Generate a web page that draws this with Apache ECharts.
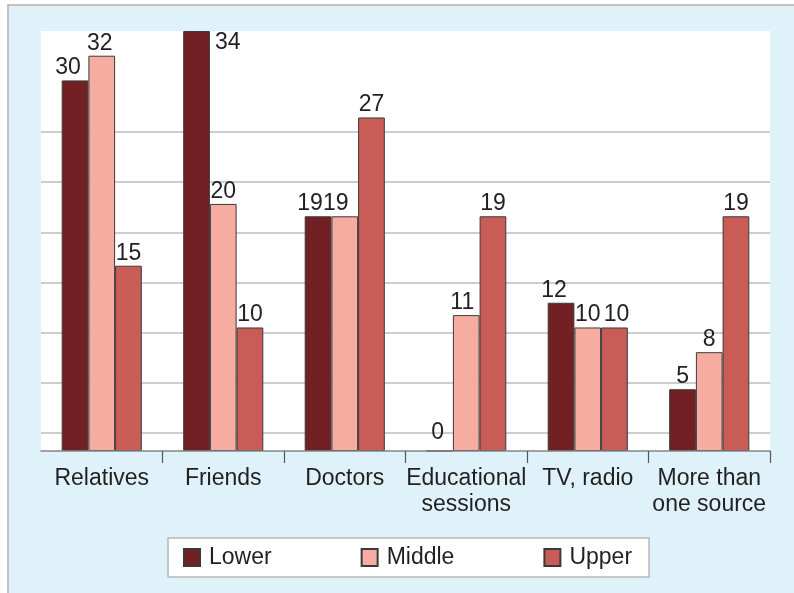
<!DOCTYPE html>
<html>
<head>
<meta charset="utf-8">
<script src="https://cdn.jsdelivr.net/npm/echarts@6/dist/echarts.min.js"></script>
<style>
  html, body { margin: 0; padding: 0; background: #fff; }
  #frame {
    position: absolute; left: 7px; top: 4px; right: 0; bottom: 0;
    background: #dff1f9;
    border-top: 2px solid #c2c2c2;
    border-left: 2px solid #c2c2c2;
  }
  #chart { position: absolute; left: 0; top: 0; width: 794px; height: 593px; }
</style>
</head>
<body>
<div id="frame"></div>
<div id="chart"></div>
<script>
const categories = ['Relatives', 'Friends', 'Doctors', 'Educational\nsessions', 'TV, radio', 'More than\none source']
const seriesNames = ['Lower', 'Middle', 'Upper']
const lower = [30, 34, 19, 0, 12, 5]
const middle = [32, 20, 19, 11, 10, 8]
const upper = [15, 10, 27, 19, 10, 19]

// label nudges so neighbouring numbers don't collide (as in the original)
const lowerShift = [[-7, 0], null, [-8, 0], [-2, -5], [-7, 0], null]
const middleShift = [[-2, 0], null, [-9, 0], [-4, 0], null, null]
const upperShift = [null, null, null, null, [2, 0], null]

const COLORS = ['#722023', '#f7aca2', '#c95c56']
const FONT = '"Liberation Sans", Arial, sans-serif'
const TEXT = '#231f20'

const toData = (values, shifts) => values.map((v, i) => {
  const item = { value: v }
  if (shifts[i]) item.label = { offset: shifts[i] }
  return item
})

const lowerData = toData(lower, lowerShift)
// Friends bar reaches the top, so its number sits beside it
lowerData[1].label = { position: ['100%', 0], offset: [5, 0], align: 'left', verticalAlign: 'top' }

const makeSeries = (name, data, color) => ({
  name,
  type: 'bar',
  data,
  barWidth: 26.7,
  barGap: 0,
  itemStyle: { color, borderColor: '#3a3a3a', borderWidth: 1 },
  label: {
    show: true,
    position: 'top',
    distance: 1,
    color: TEXT,
    fontSize: 23,
    fontFamily: FONT
  }
})

const chart = echarts.init(document.getElementById('chart'), null, { renderer: 'canvas' })

chart.setOption({
  animation: false,
  backgroundColor: 'transparent',
  textStyle: { fontFamily: FONT, color: TEXT },
  color: COLORS,
  grid: [
    { left: 41, right: 24, top: 31, bottom: 142, show: true, backgroundColor: '#fff', borderWidth: 0 },
    { left: 41, right: 24, top: 132, bottom: 160 }
  ],
  legend: {
    data: seriesNames,
    left: 168,
    top: 538,
    padding: [8, 17, 8, 15],
    itemGap: 89,
    itemWidth: 16,
    itemHeight: 17,
    icon: 'rect',
    backgroundColor: '#fff',
    borderColor: '#b8b8b8',
    borderWidth: 1.5,
    borderRadius: 0,
    textStyle: { fontSize: 23, color: TEXT, fontFamily: FONT, lineHeight: 18, padding: [0, 0, 0, 4] }
  },
  xAxis: [
    {
      type: 'category',
      data: categories,
      gridIndex: 0,
      z: 3,
      axisLine: { lineStyle: { color: '#858585', width: 1.5 } },
      // no tick at the left end, like the original
      axisTick: { show: true, interval: (i) => i > 0, length: 12, lineStyle: { color: '#555', width: 1.2 } },
      axisLabel: {
        interval: 0,
        margin: 15,
        fontSize: 23,
        lineHeight: 26,
        color: TEXT,
        fontFamily: FONT
      }
    },
    { type: 'category', data: categories, gridIndex: 1, show: false }
  ],
  yAxis: [
    {
      type: 'value',
      gridIndex: 0,
      min: 0,
      max: 34,
      show: false,
      splitLine: { show: false }
    },
    {
      type: 'value',
      gridIndex: 1,
      min: 0,
      max: 6,
      interval: 1,
      z: 1,
      axisLine: { show: false },
      axisTick: { show: false },
      axisLabel: { show: false },
      splitLine: { show: true, lineStyle: { color: '#bcbcbc', width: 1.5 } }
    }
  ],
  series: [
    makeSeries('Lower', lowerData, COLORS[0]),
    makeSeries('Middle', toData(middle, middleShift), COLORS[1]),
    makeSeries('Upper', toData(upper, upperShift), COLORS[2])
  ]
})
</script>
</body>
</html>
